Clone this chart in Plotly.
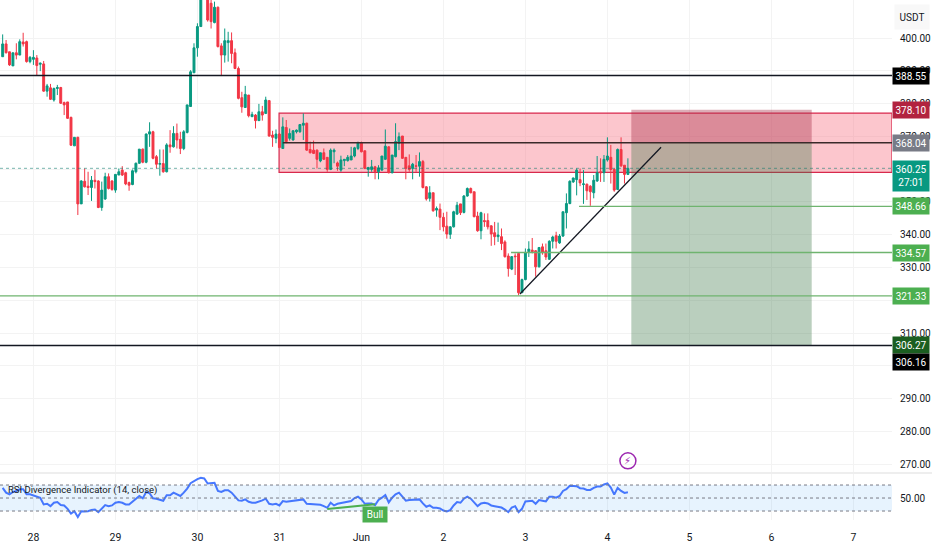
import pandas as pd
import plotly.graph_objects as go

# hourly bars
opens = [394.3,398.2,395.8,391.5,395.5,394.8,398.8,398.9,392.8,393.5,393.9,392.0,392.1,383.8,384.8,381.1,384.6,384.9,380.3,380.5,
         375.8,367.1,369.7,349.4,356.3,354.8,354.4,356.6,356.4,348.3,350.9,357.7,356.4,353.6,358.2,359.7,358.9,355.9,355.3,359.2,
         361.8,366.1,362.1,370.7,371.4,363.8,361.5,361.7,359.2,367.4,366.8,370.9,369.1,366.3,371.2,379.1,389.4,397.0,403.5,413.0,
         413.5,410.6,404.7,409.4,397.6,394.8,398.6,399.2,395.5,390.7,381.8,378.8,382.6,376.0,376.5,374.8,377.5,377.0,380.9,370.4,
         369.4,370.7,366.3,372.7,369.4,368.9,371.4,371.4,373.4,374.0,366.0,365.8,365.8,362.5,365.0,363.6,359.9,365.3,361.9,359.7,
         362.6,362.6,362.8,364.0,366.3,368.0,365.6,359.9,359.9,360.7,359.2,359.7,363.0,366.8,358.9,363.8,367.9,370.1,363.6,361.0,
         360.2,361.0,360.9,362.3,354.6,351.1,352.8,347.5,347.8,345.3,342.6,340.1,342.4,346.3,349.4,346.8,351.8,354.1,353.1,345.7,
         341.2,344.3,344.3,342.7,340.6,339.4,339.4,337.8,333.5,329.5,333.5,334.3,322.3,326.3,334.8,335.3,335.1,330.2,336.3,335.1,
         332.5,338.0,339.7,337.5,339.6,346.7,349.5,356.1,356.8,356.8,355.3,355.4,354.8,352.8,356.4,359.2,358.9,362.8,363.6,359.9,
         353.8,366.0,361.2,358.4]
highs = [401.1,399.4,395.8,395.5,398.4,399.6,401.6,399.2,394.5,396.3,394.8,392.5,393.0,386.0,386.0,384.9,385.7,385.1,380.6,380.5,
         376.0,369.7,369.9,356.6,360.2,359.2,357.9,359.7,356.6,356.2,358.9,358.7,356.6,358.5,360.2,360.9,359.2,356.2,359.9,362.0,
         366.1,366.3,370.9,374.3,371.7,364.3,366.0,366.0,367.9,371.9,373.1,373.9,371.4,371.9,379.6,390.2,398.4,404.5,414.0,416.0,
         415.0,412.5,411.1,409.6,398.4,402.9,401.9,401.7,396.8,391.3,383.6,385.4,382.6,377.5,376.8,379.9,379.3,382.1,381.1,371.7,
         372.1,371.0,375.8,375.0,372.4,371.9,372.1,373.7,377.0,374.2,368.4,368.7,366.0,365.0,366.3,363.6,366.3,366.3,362.3,364.1,
         363.0,364.3,366.8,366.8,368.4,368.4,365.6,360.7,362.8,361.0,361.2,364.0,372.1,367.0,364.3,374.0,371.2,370.1,363.6,364.5,
         361.9,364.3,365.1,362.8,354.8,354.8,352.8,348.6,349.5,346.7,347.0,342.6,347.3,350.0,349.4,352.1,354.4,354.4,353.1,347.0,
         347.0,346.5,346.5,342.9,343.9,343.7,341.9,338.3,334.3,333.5,334.3,334.5,326.6,335.8,338.0,339.0,335.3,336.1,337.3,337.3,
         338.3,339.7,340.9,340.2,347.0,352.6,356.6,357.4,360.2,360.2,359.7,355.6,355.1,358.2,364.0,363.3,364.3,369.7,367.4,360.2,
         366.3,369.7,361.2,363.3]
lows = [394.3,395.3,391.5,391.5,393.5,394.8,397.4,392.5,392.3,391.8,388.7,389.9,383.6,382.1,381.1,380.6,382.6,379.9,376.5,375.3,
        367.1,367.1,346.0,349.4,354.4,352.1,350.3,354.1,348.1,347.3,350.6,353.8,353.4,352.8,358.2,357.9,355.1,353.4,355.1,358.7,
        361.6,361.8,361.8,366.8,363.0,360.2,358.0,358.9,359.0,365.0,366.6,366.3,364.6,365.8,370.9,379.1,389.4,394.3,403.5,412.0,
        405.0,402.9,404.5,397.1,388.4,392.5,392.8,392.3,390.5,381.3,377.2,378.8,375.8,376.0,372.4,374.8,374.8,376.8,369.9,366.8,
        367.9,366.5,366.3,367.9,368.7,368.7,370.9,371.1,368.9,365.6,364.8,364.6,360.2,362.1,362.8,359.2,359.7,361.8,359.5,359.2,
        360.9,362.3,362.8,363.6,365.8,365.1,360.0,357.7,359.2,356.9,356.9,359.5,362.8,358.7,358.7,363.6,365.8,363.1,356.9,359.2,
        356.9,359.2,357.7,354.1,350.4,350.1,347.0,345.5,341.4,341.0,338.8,338.7,342.2,346.0,346.0,346.5,351.6,352.6,345.3,340.9,
        338.6,342.4,341.6,336.6,336.8,337.8,335.3,333.0,327.2,329.2,327.7,321.5,322.3,326.1,333.2,334.3,327.2,330.0,333.9,332.3,
        332.3,335.8,335.8,337.2,339.3,341.9,349.3,355.8,352.0,354.8,349.4,350.6,348.8,351.1,356.1,356.1,356.1,362.3,355.6,353.1,
        353.6,360.7,355.6,358.2]
closes = [398.2,395.5,391.8,395.5,394.8,398.9,398.2,392.8,394.1,394.1,391.6,392.3,383.8,385.4,381.3,384.6,384.9,380.1,379.6,375.5,
          367.3,369.7,349.4,356.4,354.6,354.4,356.6,356.2,348.3,353.6,357.7,354.1,353.8,358.4,359.2,358.2,355.5,355.1,359.5,361.8,
          366.1,362.1,370.7,371.4,363.3,361.5,361.7,359.2,367.4,366.8,370.9,368.9,366.3,371.4,379.6,389.7,397.0,403.5,412.5,414.0,
          405.5,405.0,409.4,397.4,394.8,399.2,399.2,395.3,390.7,381.6,379.0,382.8,376.3,376.7,374.8,377.5,376.5,381.1,370.1,369.7,
          370.7,366.6,372.9,368.4,370.9,371.7,371.9,373.6,374.0,365.8,365.0,364.8,363.0,365.0,363.0,359.9,365.8,365.8,360.9,362.8,
          363.0,363.6,364.0,366.5,368.0,365.3,360.2,360.5,360.7,359.2,360.4,364.0,367.0,358.9,364.3,368.4,369.9,363.3,360.2,359.9,
          361.5,360.9,362.3,354.4,350.9,352.8,347.3,348.0,345.3,342.4,340.2,342.4,347.0,349.0,346.7,351.8,354.1,352.8,345.5,341.2,
          346.7,344.0,342.4,340.2,339.4,339.9,337.3,333.3,329.7,333.3,333.3,322.3,326.3,334.6,335.6,334.8,330.2,336.1,334.5,333.2,
          338.0,339.3,338.0,339.6,347.0,349.5,356.3,357.3,359.7,355.8,355.5,353.4,353.1,356.6,358.9,358.9,363.0,364.0,359.9,353.6,
          366.0,361.0,358.4,360.25]
rsi = [65.6,58.3,55.7,59.4,60.9,63.5,63.5,55.7,55.7,54.2,52.1,50.5,40.1,41.2,37.5,42.7,43.8,39.1,38.6,33.4,
       26.1,29.7,20.9,29.7,29.2,29.7,31.8,32.3,28.2,33.4,39.1,37.5,38.6,42.7,43.8,42.7,40.1,40.1,44.3,49.0,
       53.1,49.5,59.4,57.3,49.5,49.0,47.9,45.8,54.2,54.2,58.3,55.7,53.1,58.3,64.6,72.9,76.5,79.1,81.2,80.2,
       72.4,72.4,73.4,60.9,59.4,62.0,62.0,58.3,53.1,46.4,45.8,47.9,44.3,42.7,42.7,44.3,46.4,49.0,41.2,40.1,
       41.2,38.6,45.3,44.3,44.8,45.8,45.8,46.9,47.9,41.2,40.6,40.6,39.6,39.6,37.5,34.9,
       42.7,38.6,41.2,42.2,42.2,43.2,45.3,50.0,52.1,47.9,41.2,41.7,41.7,39.1,46.9,50.5,54.7,43.2,50.5,55.7,
       58.3,52.1,45.8,46.9,46.9,47.9,47.9,41.7,36.5,38.6,34.9,34.9,33.9,30.8,29.2,31.3,38.6,43.8,42.7,49.0,
       52.1,49.0,42.7,37.5,41.7,42.7,41.7,38.6,37.5,36.5,35.4,32.3,28.2,35.4,37.5,28.2,33.4,44.8,45.8,45.8,
       41.2,46.9,45.8,44.8,52.1,52.1,50.5,53.1,60.9,63.5,68.7,68.7,68.2,65.1,64.6,62.5,62.5,65.6,67.7,67.7,
       70.8,72.4,66.1,55.2,65.6,60.9,57.8,58.8]

price_ticks = [270, 280, 290, 300, 310, 320, 330, 340, 350, 360, 370, 380, 390, 400]
hidden_ticks = [300, 320, 360]   # fully covered by the price tags in the original
day_labels = ["28", "29", "30", "31", "Jun", "2", "3", "4", "5", "6", "7"]
day_dates = ["2025-05-28", "2025-05-29", "2025-05-30", "2025-05-31", "2025-06-01", "2025-06-02",
             "2025-06-03", "2025-06-04", "2025-06-05", "2025-06-06", "2025-06-07"]

resistance = 388.55
support = 306.16
entry = 368.04
stop = 378.10
target = 306.27
last_price = 360.25
zone_top = 377.1
zone_bottom = 359.0
green_levels = [348.66, 334.57, 321.33]
green_starts = [168.7, 148.8, -0.78]   # bar position where each level begins
trend_bars = [151.4, 192.7]
trend_prices = [321.9, 366.7]
bull_bars = [95, 109]
bull_rsi = [33.0, 40.5]

UP = "#089981"
DOWN = "#f23645"
GREEN = "#4caf50"
GRID = "#f3f3f3"
FONT = "Roboto, sans-serif"
PANE_RIGHT = 892 / 932

t0 = pd.Timestamp("2025-05-27 15:00")


def bar_time(i):
    return t0 + pd.Timedelta(hours=i)


times = [bar_time(i) for i in range(len(closes))]
x_start = bar_time(-0.78)
x_end = bar_time(260.3)

fig = go.Figure()

fig.add_trace(go.Candlestick(
    x=times, open=opens, high=highs, low=lows, close=closes,
    increasing=dict(line=dict(color=UP, width=1), fillcolor=UP),
    decreasing=dict(line=dict(color=DOWN, width=1), fillcolor=DOWN),
    showlegend=False, xaxis="x", yaxis="y",
))
fig.add_trace(go.Scatter(
    x=times, y=rsi, mode="lines", line=dict(color="#2962ff", width=2),
    opacity=0.85, showlegend=False, xaxis="x", yaxis="y2",
))
fig.add_trace(go.Scatter(
    x=[bar_time(i) for i in bull_bars], y=bull_rsi, mode="lines",
    line=dict(color=GREEN, width=2), showlegend=False, xaxis="x", yaxis="y2",
))
fig.add_trace(go.Scatter(
    x=[bar_time(i) for i in trend_bars], y=trend_prices, mode="lines",
    line=dict(color="#131722", width=1.3), showlegend=False, xaxis="x", yaxis="y",
))

shapes = []


def hline(price, start, end, color, width=1.5, dash="solid"):
    shapes.append(dict(type="line", xref="x", yref="y", x0=start, x1=end, y0=price, y1=price,
                       line=dict(color=color, width=width, dash=dash)))


# supply zone and the long/short tool
shapes.append(dict(type="rect", xref="x", yref="y", x0=bar_time(80.9), x1=x_end, y0=zone_bottom, y1=zone_top,
                   fillcolor="rgba(247,120,135,0.42)", line=dict(color="#d8294d", width=1.2), layer="between"))
shapes.append(dict(type="rect", xref="x", yref="y", x0=bar_time(184), x1=bar_time(236.8), y0=entry, y1=stop,
                   fillcolor="rgba(170,50,75,0.4)", line=dict(width=0), layer="between"))
shapes.append(dict(type="rect", xref="x", yref="y", x0=bar_time(184), x1=bar_time(236.8), y0=target, y1=entry,
                   fillcolor="rgba(56,118,70,0.35)", line=dict(width=0), layer="between"))

hline(resistance, x_start, x_end, "#131722")
hline(support, x_start, x_end, "#131722")
hline(entry, bar_time(82), x_end, "#3a2a2a")
for level, start in zip(green_levels, green_starts):
    hline(level, bar_time(start), x_end, "#6fb46f", width=1.3)
hline(last_price, x_start, x_end, "rgba(8,120,105,0.55)", width=1, dash="dot")

# RSI band
shapes.append(dict(type="rect", xref="x", yref="y2", x0=x_start, x1=x_end, y0=30, y1=70,
                   fillcolor="rgba(33,150,243,0.11)", line=dict(width=0), layer="between"))
for level in [30, 50, 70]:
    shapes.append(dict(type="line", xref="x", yref="y2", x0=x_start, x1=x_end, y0=level, y1=level,
                       line=dict(color="#787b86", width=1, dash="dot")))
# pane separator
shapes.append(dict(type="line", xref="paper", yref="paper", x0=0, x1=1, y0=77 / 550, y1=77 / 550,
                   line=dict(color="#eeeeee", width=2)))
# lightning badge
shapes.append(dict(type="circle", xref="x", yref="y", xsizemode="pixel", ysizemode="pixel",
                   xanchor=bar_time(183), yanchor=271, x0=-8, x1=8, y0=-8, y1=8,
                   line=dict(color="#9c27b0", width=1.5)))


def tag(price, text, color, height=16, yshift=0):
    return dict(xref="paper", yref="y", x=911 / 932, y=price, xanchor="center", yanchor="middle",
                text=text, showarrow=False, bgcolor=color,
                font=dict(color="white", size=10, family=FONT),
                width=36, height=height, yshift=yshift, borderpad=0, align="center")


annotations = [
    tag(resistance, f"{resistance:.2f}", "#000000"),
    tag(stop, f"{stop:.2f}", "#b2233f"),
    tag(entry, f"{entry:.2f}", "#787b86"),
    dict(tag(last_price, f"{last_price:.2f}<br>27:01", UP, height=30), yanchor="top", yshift=8),
    tag(green_levels[0], f"{green_levels[0]:.2f}", GREEN),
    tag(green_levels[1], f"{green_levels[1]:.2f}", GREEN),
    tag(green_levels[2], f"{green_levels[2]:.2f}", GREEN),
    tag(target, f"{target:.2f}", "#1b5e20"),
    tag(support, f"{support:.2f}", "#000000", yshift=-16),
    dict(xref="paper", yref="paper", x=912 / 932, y=1 - 17 / 550, xanchor="center", yanchor="middle",
         text="USDT", showarrow=False, font=dict(color="#131722", size=10, family=FONT),
         bgcolor="#f8f8f8", width=34, height=24, borderpad=0),
    dict(xref="paper", yref="paper", x=6 / 932, y=1 - 490 / 550, xanchor="left", yanchor="middle",
         text="RSI Divergence Indicator (14, close)", showarrow=False,
         font=dict(color="#131722", size=9.5, family=FONT)),
    dict(xref="x", yref="y2", x=bar_time(109), y=50, yshift=-16.5, xanchor="center", yanchor="middle",
         text="Bull", showarrow=False, bgcolor=GREEN, font=dict(color="white", size=10, family=FONT),
         width=24, height=15, borderpad=0),
    dict(xref="x", yref="y", x=bar_time(183), y=271, xanchor="center", yanchor="middle", text="⚡", showarrow=False,
         font=dict(color="#9c27b0", size=10, family="DejaVu Sans")),
]

fig.update_layout(
    width=932,
    height=550,
    margin=dict(l=0, r=0, t=0, b=0, autoexpand=False),
    plot_bgcolor="white",
    paper_bgcolor="white",
    showlegend=False,
    boxgap=0.2,
    font=dict(family=FONT, size=10, color="#131722"),
    shapes=shapes,
    annotations=annotations,
    xaxis=dict(
        domain=[0, PANE_RIGHT],
        range=[x_start, x_end],
        anchor="y2",
        rangeslider=dict(visible=False),
        tickmode="array",
        tickvals=day_dates,
        ticktext=day_labels,
        showgrid=True,
        gridcolor=GRID,
        ticks="outside",
        ticklen=7,
        tickcolor="rgba(0,0,0,0)",
        zeroline=False,
        showline=False,
        tickfont=dict(size=10.5, family=FONT),
    ),
    yaxis=dict(
        domain=[77 / 550, 1],
        range=[267.3, 411.6],
        anchor="x",
        side="right",
        tickmode="array",
        tickvals=price_ticks,
        ticktext=["" if v in hidden_ticks else f"{v:.2f}" for v in price_ticks],
        showgrid=True,
        gridcolor=GRID,
        zeroline=False,
        showline=False,
        ticks="outside",
        ticklen=5,
        tickcolor="rgba(0,0,0,0)",
        tickfont=dict(size=10, family=FONT),
    ),
    yaxis2=dict(
        domain=[30 / 550, 77 / 550],
        range=[16.2, 88.5],
        anchor="x",
        side="right",
        tickmode="array",
        tickvals=[50],
        ticktext=["50.00"],
        showgrid=False,
        zeroline=False,
        showline=False,
        ticks="outside",
        ticklen=5,
        tickcolor="rgba(0,0,0,0)",
        tickfont=dict(size=10, family=FONT),
    ),
)

fig.write_html("out.html", config=dict(displayModeBar=False), post_script="document.body.style.margin='0';")
